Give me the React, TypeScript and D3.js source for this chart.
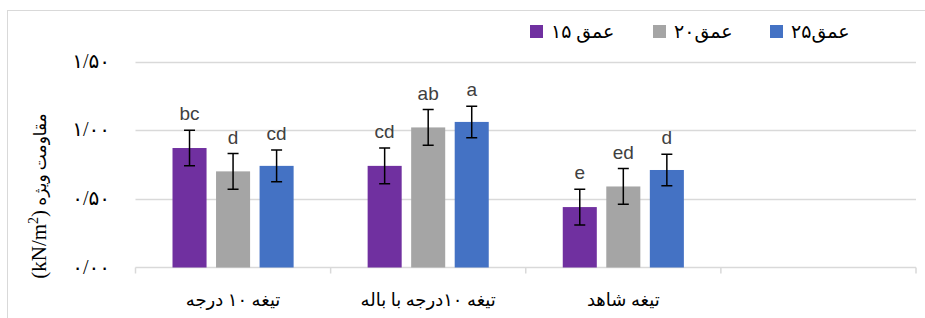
import React, { useEffect, useRef } from 'react';
import * as d3 from 'd3';

// categories (4th slot is empty in the original chart)
const categories = ['تیغه ۱۰ درجه', 'تیغه ۱۰درجه با باله', 'تیغه شاهد', ''];
const seriesNames = ['عمق ۱۵', 'عمق۲۰', 'عمق۲۵'];
const seriesColors = ['#7030a0', '#a5a5a5', '#4472c4'];

const depth15 = [0.87, 0.74, 0.44];
const depth20 = [0.70, 1.02, 0.59];
const depth25 = [0.74, 1.06, 0.71];

const err15 = [0.13, 0.13, 0.13];
const err20 = [0.13, 0.13, 0.13];
const err25 = [0.115, 0.115, 0.115];

const letters15 = ['bc', 'cd', 'e'];
const letters20 = ['d', 'ab', 'ed'];
const letters25 = ['cd', 'a', 'd'];

const yTicks = [0, 0.5, 1, 1.5];
const yTickLabels = ['۰/۰۰', '۰/۵۰', '۱/۰۰', '۱/۵۰'];

const W = 925;
const H = 318;

const App = () => {
  const svgRef = useRef<SVGSVGElement>(null);

  useEffect(() => {
    const svg = d3.select(svgRef.current);
    svg.selectAll('*').remove();

    const values = [depth15, depth20, depth25];
    const errors = [err15, err20, err25];
    const letters = [letters15, letters20, letters25];

    // outer chart frame
    svg.append('rect')
      .attr('x', 7.5).attr('y', 10.5)
      .attr('width', 940).attr('height', 330)
      .attr('fill', 'none')
      .attr('stroke', '#d9d9d9');

    const x = d3.scaleBand<string>()
      .domain(categories.map((_, i) => String(i)))
      .range([135.5, 916]);

    const xInner = d3.scaleBand<string>()
      .domain(seriesNames)
      .range([0, x.bandwidth()])
      .paddingInner(0.218)
      .paddingOuter(0.85);

    const y = d3.scaleLinear().domain([0, 1.5]).range([267.5, 61.5]);

    // gridlines
    svg.append('g')
      .selectAll('line')
      .data(yTicks.slice(1))
      .enter()
      .append('line')
      .attr('x1', 135.5).attr('x2', 916)
      .attr('y1', d => Math.round(y(d)) + 0.5)
      .attr('y2', d => Math.round(y(d)) + 0.5)
      .attr('stroke', '#d9d9d9')
      .attr('stroke-width', 1.5);

    // x axis
    const xAxis = svg.append('g')
      .attr('transform', `translate(0,${y(0)})`)
      .call(d3.axisBottom(x).tickSize(0).tickFormat(() => ''));
    xAxis.select('.domain').remove();
    xAxis.append('line')
      .attr('x1', 135.5).attr('x2', 916)
      .attr('stroke', '#d9d9d9').attr('stroke-width', 1.5);
    xAxis.selectAll('.sep')
      .data(d3.range(categories.length + 1))
      .enter()
      .append('line')
      .attr('class', 'sep')
      .attr('x1', i => 135.5 + i * x.step())
      .attr('x2', i => 135.5 + i * x.step())
      .attr('y1', 0).attr('y2', 6)
      .attr('stroke', '#d9d9d9').attr('stroke-width', 1.5);

    const farsiFont = '"Liberation Serif", "DejaVu Sans", serif';

    // category labels
    svg.append('g')
      .selectAll('text')
      .data(categories)
      .enter()
      .append('text')
      .attr('x', (_, i) => x(String(i))! + x.bandwidth() / 2)
      .attr('y', 306)
      .attr('text-anchor', 'middle')
      .style('font-family', farsiFont)
      .style('font-size', '18px')
      .attr('fill', '#000')
      .text(d => d);

    // y tick labels
    svg.append('g')
      .selectAll('text')
      .data(yTicks)
      .enter()
      .append('text')
      .attr('x', 110)
      .attr('y', d => y(d) + 6)
      .attr('text-anchor', 'end')
      .style('font-family', farsiFont)
      .style('font-size', '20px')
      .attr('fill', '#000')
      .text((_, i) => yTickLabels[i]);

    // y axis title
    const title = svg.append('text')
      .attr('transform', 'translate(46,196) rotate(-90)')
      .attr('text-anchor', 'middle')
      .attr('fill', '#000')
      .style('font-family', farsiFont);
    title.append('tspan').style('font-size', '21px').text('(kN/m');
    title.append('tspan').style('font-size', '14px').attr('dy', -8).text('2');
    title.append('tspan').style('font-size', '21px').attr('dy', 8).text(')');
    title.append('tspan').style('font-size', '17px').text(' مقاومت ویژه');

    // bars, error bars, letters
    seriesNames.forEach((s, si) => {
      const g = svg.append('g');
      const rows = values[si].map((v, ci) => ({ v, e: errors[si][ci], l: letters[si][ci], ci }));
      const cx = (d: any) => x(String(d.ci))! + xInner(s)! + xInner.bandwidth() / 2;

      g.selectAll('rect')
        .data(rows)
        .enter()
        .append('rect')
        .attr('x', d => x(String(d.ci))! + xInner(s)!)
        .attr('y', d => y(d.v))
        .attr('width', xInner.bandwidth())
        .attr('height', d => y(0) - y(d.v))
        .attr('fill', seriesColors[si]);

      g.selectAll('.err')
        .data(rows)
        .enter()
        .append('path')
        .attr('class', 'err')
        .attr('d', d => {
          const c = cx(d);
          const t = y(d.v + d.e);
          const b = y(d.v - d.e);
          return `M${c - 5.5},${t}H${c + 5.5}M${c},${t}V${b}M${c - 5.5},${b}H${c + 5.5}`;
        })
        .attr('fill', 'none')
        .attr('stroke', '#000')
        .attr('stroke-width', 1.5);

      g.selectAll('.lbl')
        .data(rows)
        .enter()
        .append('text')
        .attr('class', 'lbl')
        .attr('x', cx)
        .attr('y', d => y(d.v + d.e) - 10)
        .attr('text-anchor', 'middle')
        .style('font-family', '"Liberation Sans", Arial, sans-serif')
        .style('font-size', '19px')
        .attr('fill', '#404040')
        .text(d => d.l);
    });

    // legend
    const legendX = [530, 653, 770];
    const legend = svg.append('g')
      .selectAll('g')
      .data(seriesNames)
      .enter()
      .append('g')
      .attr('transform', (_, i) => `translate(${legendX[i]},25)`);
    legend.append('rect')
      .attr('width', 13).attr('height', 13)
      .attr('fill', (_, i) => seriesColors[i]);
    legend.append('text')
      .attr('x', 21)
      .attr('y', 13)
      .style('font-family', farsiFont)
      .style('font-size', '19px')
      .attr('fill', '#000')
      .text(d => d);
  }, []);

  return (
    <svg
      ref={svgRef}
      width={W}
      height={H}
      style={{ position: 'absolute', left: 0, top: 0, background: '#fff' }}
    />
  );
};

export default App;
